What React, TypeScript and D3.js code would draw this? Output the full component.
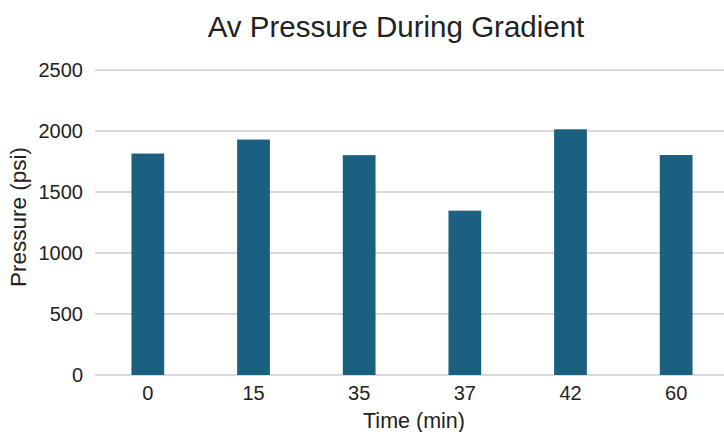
import React, { useEffect, useRef } from "react";
import * as d3 from "d3";

const times = ["0", "15", "35", "37", "42", "60"];
const pressures = [1815, 1930, 1802, 1347, 2014, 1803];
const yTicks = [0, 500, 1000, 1500, 2000, 2500];

const App = () => {
    const ref = useRef<SVGSVGElement>(null);

    useEffect(() => {
        const width = 724;
        const height = 432;
        const margin = { top: 70, right: -5, bottom: 57, left: 95 };

        const svg = d3.select(ref.current);
        svg.selectAll("*").remove();

        const font = "'Liberation Sans', Arial, sans-serif";

        const x = d3
            .scaleBand()
            .domain(times)
            .range([margin.left, width - margin.right])
            .paddingInner(0.69)
            .paddingOuter(0.345);

        const y = d3
            .scaleLinear()
            .domain([0, 2500])
            .range([height - margin.bottom, margin.top]);

        // gridlines
        svg.append("g")
            .selectAll("line")
            .data(yTicks)
            .join("line")
            .attr("x1", margin.left)
            .attr("x2", width)
            .attr("y1", (d) => y(d))
            .attr("y2", (d) => y(d))
            .attr("stroke", "#d9d9d9")
            .attr("stroke-width", 2);

        svg.append("g")
            .selectAll("rect")
            .data(pressures)
            .join("rect")
            .attr("x", (d, i) => x(times[i])!)
            .attr("y", (d) => y(d))
            .attr("width", x.bandwidth())
            .attr("height", (d) => y(0) - y(d))
            .attr("fill", "#1b6080");

        // y tick labels
        svg.append("g")
            .selectAll("text")
            .data(yTicks)
            .join("text")
            .attr("x", 83)
            .attr("y", (d) => y(d))
            .attr("dy", "0.35em")
            .attr("text-anchor", "end")
            .attr("font-family", font)
            .attr("font-size", 20)
            .attr("fill", "#222")
            .text((d) => d);

        // x tick labels
        svg.append("g")
            .selectAll("text")
            .data(times)
            .join("text")
            .attr("x", (d) => x(d)! + x.bandwidth() / 2)
            .attr("y", 400)
            .attr("text-anchor", "middle")
            .attr("font-family", font)
            .attr("font-size", 20)
            .attr("fill", "#222")
            .text((d) => d);

        svg.append("text")
            .attr("x", 414)
            .attr("y", 428)
            .attr("text-anchor", "middle")
            .attr("font-family", font)
            .attr("font-size", 21.5)
            .attr("fill", "#222")
            .text("Time (min)");

        svg.append("text")
            .attr("transform", `translate(26,217) rotate(-90)`)
            .attr("text-anchor", "middle")
            .attr("font-family", font)
            .attr("font-size", 22.5)
            .attr("fill", "#222")
            .text("Pressure (psi)");

        svg.append("text")
            .attr("x", 396)
            .attr("y", 37)
            .attr("text-anchor", "middle")
            .attr("font-family", font)
            .attr("font-size", 29.5)
            .attr("fill", "#222")
            .text("Av Pressure During Gradient");
    }, []);

    return (
        <svg
            ref={ref}
            width={724}
            height={432}
            style={{ position: "absolute", left: 0, top: 0, background: "#fff" }}
        />
    );
};

export default App;
